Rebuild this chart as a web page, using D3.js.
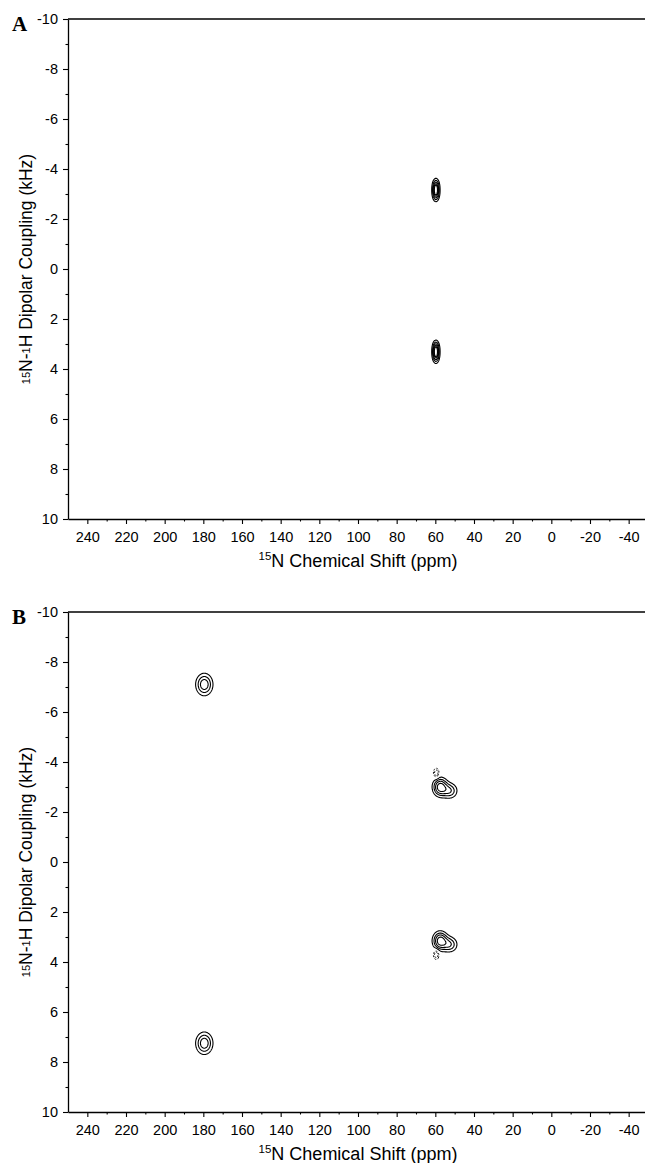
<!DOCTYPE html>
<html>
<head>
<meta charset="utf-8">
<script src="https://cdn.jsdelivr.net/npm/d3@7"></script>
<style>
  body { margin: 0; background: #fff; }
  text { font-family: "Liberation Sans", Arial, sans-serif; fill: #000; }
</style>
</head>
<body>
<svg width="645" height="1163"></svg>
<script>
// axis ticks
const xTicks = [240, 220, 200, 180, 160, 140, 120, 100, 80, 60, 40, 20, 0, -20, -40];
const xMinor = [230, 210, 190, 170, 150, 130, 110, 90, 70, 50, 30, 10, -10, -30];
const yTicks = [-10, -8, -6, -4, -2, 0, 2, 4, 6, 8, 10];
const yMinor = [-9, -7, -5, -3, -1, 1, 3, 5, 7, 9];

// panel A peaks (ppm, kHz, widths, amplitude)
const aPpm  = [59.7, 59.7, 59.7, 59.7];
const aKhz  = [-3.31, -3.01, 3.16, 3.46];
const aSdP  = [1.2, 1.2, 1.2, 1.2];
const aSdK  = [0.2, 0.2, 0.2, 0.2];
const aAmp  = [0.75, 0.75, 0.75, 0.75];
const aLevels = [0.22, 0.4, 0.58, 0.76, 0.9];

// panel B peaks
const bPpm  = [179.5, 179.5, 57.5, 52.5, 59.5, 57.5, 52.5, 59.5];
const bKhz  = [-7.1, 7.25, -3.0, -2.85, -3.55, 3.15, 3.3, 3.7];
const bSdP  = [2.8, 2.8, 2.4, 2.6, 1.0, 2.4, 2.6, 1.0];
const bSdK  = [0.28, 0.28, 0.23, 0.2, 0.13, 0.23, 0.2, 0.13];
const bAmp  = [0.8, 0.8, 1, 0.6, -0.5, 1, 0.6, -0.5];
const bLevels = [0.22, 0.42, 0.62, 0.85];
const bNegLevels = [0.15, 0.3];

const svg = d3.select("svg");
const left = 68, plotH = 500;
const pxPerPpm = 1.9333;

// grid for the contour field
const ppmMax = 250, ppmStep = 0.25, khzMin = -10, khzStep = 0.05;
const nCols = 1201, nRows = 401;

function field(ppm, khz, sdP, sdK, amp) {
  const vals = new Float64Array(nCols * nRows);
  for (let k = 0; k < ppm.length; k++) {
    for (let j = 0; j < nRows; j++) {
      const kv = khzMin + j * khzStep;
      const dk = (kv - khz[k]) / sdK[k];
      if (Math.abs(dk) > 6) continue;
      for (let i = 0; i < nCols; i++) {
        const pv = ppmMax - i * ppmStep;
        const dp = (pv - ppm[k]) / sdP[k];
        if (Math.abs(dp) > 6) continue;
        vals[j * nCols + i] += amp[k] * Math.exp(-0.5 * (dp * dp + dk * dk));
      }
    }
  }
  return vals;
}

function panel(top, label, ppm, khz, sdP, sdK, amp, levels, negLevels) {
  const x = d3.scaleLinear().domain([250, -50]).range([left, left + 300 * pxPerPpm]);
  const y = d3.scaleLinear().domain([-10, 10]).range([top, top + plotH]);
  const g = svg.append("g");

  // contours
  const vals = field(ppm, khz, sdP, sdK, amp);
  const proj = d3.geoTransform({
    point: function(px, py) {
      this.stream.point(x(ppmMax - (px - 0.5) * ppmStep), y(khzMin + (py - 0.5) * khzStep));
    }
  });
  const path = d3.geoPath(proj);
  const pos = d3.contours().size([nCols, nRows]).thresholds(levels)(vals);
  g.selectAll("path.pos").data(pos).enter().append("path")
    .attr("class", "pos")
    .attr("d", path)
    .attr("fill", "none")
    .attr("stroke", "#000")
    .attr("stroke-width", 1.1);
  if (negLevels.length) {
    const neg = d3.contours().size([nCols, nRows]).thresholds(negLevels)(vals.map(v => -v));
    g.selectAll("path.neg").data(neg).enter().append("path")
      .attr("class", "neg")
      .attr("d", path)
      .attr("fill", "none")
      .attr("stroke", "#000")
      .attr("stroke-width", 0.9)
      .attr("stroke-dasharray", "2,1.5");
  }

  // top frame line
  g.append("line")
    .attr("x1", x.range()[0]).attr("x2", x.range()[1])
    .attr("y1", y.range()[0]).attr("y2", y.range()[0])
    .attr("stroke", "#000").attr("stroke-width", 1.3);

  // axes
  g.append("g").attr("transform", `translate(${left},0)`)
    .call(d3.axisLeft(y).tickValues(yTicks).tickSize(5).tickPadding(5).tickSizeOuter(0).tickFormat(d => String(d)));
  g.append("g").attr("transform", `translate(${left},0)`)
    .call(d3.axisLeft(y).tickValues(yMinor).tickSize(2.5).tickFormat(""))
    .call(a => a.select(".domain").remove());
  g.append("g").attr("transform", `translate(0,${top + plotH})`)
    .call(d3.axisBottom(x).tickValues(xTicks).tickSize(5).tickPadding(8).tickSizeOuter(0).tickFormat(d => String(d)));
  g.append("g").attr("transform", `translate(0,${top + plotH})`)
    .call(d3.axisBottom(x).tickValues(xMinor).tickSize(2.5).tickFormat(""))
    .call(a => a.select(".domain").remove());

  g.selectAll(".domain").attr("stroke", "#000").attr("stroke-width", 1.3);
  g.selectAll(".tick line").attr("stroke", "#000").attr("stroke-width", 1.1);
  g.selectAll(".tick text").style("font-family", '"Liberation Sans", Arial, sans-serif').style("font-size", "14.5px").attr("fill", "#000");

  // panel letter
  g.append("text").attr("x", 12).attr("y", top + 11.5)
    .style("font-family", '"Liberation Serif", "Times New Roman", serif')
    .style("font-weight", "bold").style("font-size", "21px")
    .text(label);

  // x title
  const xt = g.append("text")
    .attr("x", x(100)).attr("y", top + plotH + 48)
    .attr("text-anchor", "middle")
    .style("font-size", "18px");
  xt.append("tspan").attr("dy", -7).style("font-size", "11.5px").text("15");
  xt.append("tspan").attr("dy", 7).text("N Chemical Shift (ppm)");

  // y title
  const yt = g.append("text")
    .attr("transform", `translate(32,${top + plotH / 2}) rotate(-90)`)
    .attr("text-anchor", "middle")
    .style("font-size", "17.5px");
  yt.append("tspan").attr("dy", -2).style("font-size", "11px").text("15");
  yt.append("tspan").attr("dy", 2).text("N-");
  yt.append("tspan").attr("dy", -2).style("font-size", "11px").text("1");
  yt.append("tspan").attr("dy", 2).text("H Dipolar Coupling (kHz)");
}

panel(19, "A", aPpm, aKhz, aSdP, aSdK, aAmp, aLevels, []);
panel(612, "B", bPpm, bKhz, bSdP, bSdK, bAmp, bLevels, bNegLevels);
</script>
</body>
</html>
